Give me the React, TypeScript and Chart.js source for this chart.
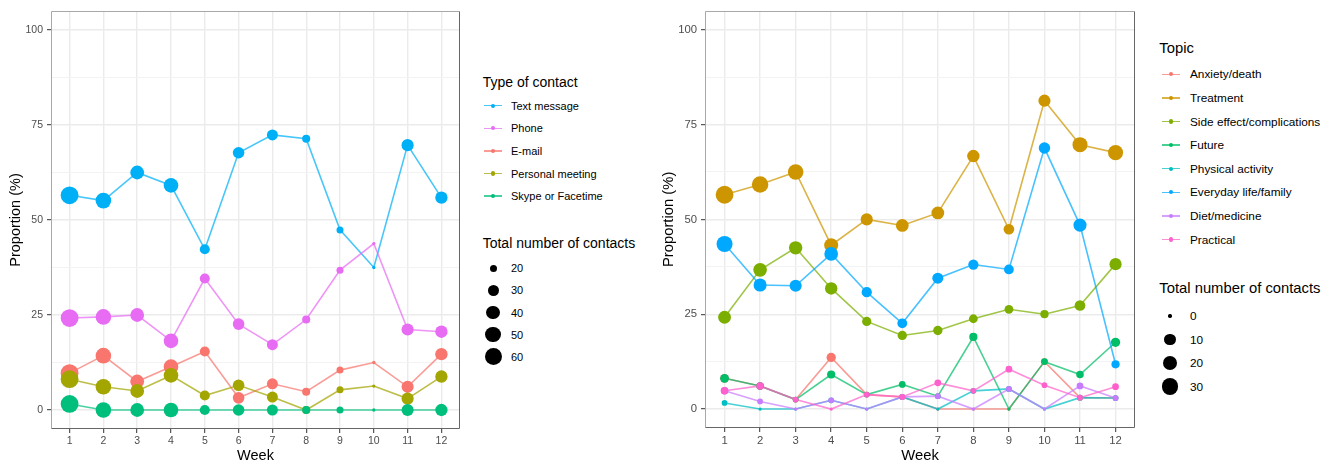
import React, { useEffect, useRef } from "react";
import { Chart, registerables } from "chart.js";

Chart.register(...registerables);

const FONT = "'Liberation Sans', Arial, Helvetica, sans-serif";

// ---------- shared axes ----------
const WEEKS = [1, 2, 3, 4, 5, 6, 7, 8, 9, 10, 11, 12];
const Y_TICKS = [0, 25, 50, 75, 100];
const Y_MINOR = [12.5, 37.5, 62.5, 87.5];

// ---------- left chart: type of contact ----------
const CONTACT_TYPES = ["Text message", "Phone", "E-mail", "Personal meeting", "Skype or Facetime"];
const CONTACT_COLORS = ["#00B0F6", "#E76BF3", "#F8766D", "#A3A500", "#00BF7D"];
const CONTACT_DRAW_RANK = [1, 0, 4, 3, 2]; // lower = drawn on top
const TEXT_MESSAGE = [56.5, 55.1, 62.5, 59.1, 42.3, 67.7, 72.4, 71.4, 47.4, 37.5, 69.7, 55.9];
const PHONE = [24.2, 24.5, 25.0, 18.2, 34.6, 22.6, 17.2, 23.8, 36.8, 43.8, 21.2, 20.6];
const EMAIL = [9.7, 14.3, 7.5, 11.4, 15.4, 3.2, 6.9, 4.8, 10.5, 12.5, 6.1, 14.7];
const PERSONAL_MEETING = [8.1, 6.1, 5.0, 9.1, 3.8, 6.5, 3.4, 0, 5.3, 6.3, 3.0, 8.8];
const SKYPE_FACETIME = [1.6, 0, 0, 0, 0, 0, 0, 0, 0, 0, 0, 0];
const WEEK_TOTALS = [62, 49, 40, 44, 26, 31, 29, 21, 19, 16, 33, 34];
const CONTACT_SIZE_LEGEND = [20, 30, 40, 50, 60];

// ---------- right chart: topic ----------
const TOPICS = [
  "Anxiety/death",
  "Treatment",
  "Side effect/complications",
  "Future",
  "Physical activity",
  "Everyday life/family",
  "Diet/medicine",
  "Practical",
];
const TOPIC_COLORS = ["#F8766D", "#CD9600", "#7CAE00", "#00BE67", "#00BFC4", "#00A9FF", "#C77CFF", "#FF61CC"];
const ANXIETY = [8.1, 6.1, 2.5, 13.6, 3.8, 3.2, 0, 0, 0, 12.5, 3.0, 2.9];
const ANXIETY_N = [5, 3, 1, 6, 1, 1, 0, 0, 0, 2, 1, 1];
const TREATMENT = [56.5, 59.2, 62.5, 43.2, 50.0, 48.4, 51.7, 66.7, 47.4, 81.3, 69.7, 67.6];
const TREATMENT_N = [35, 29, 25, 19, 13, 15, 15, 14, 9, 13, 23, 23];
const SIDE_EFFECT = [24.2, 36.7, 42.5, 31.8, 23.1, 19.4, 20.7, 23.8, 26.3, 25.0, 27.3, 38.2];
const SIDE_EFFECT_N = [15, 18, 17, 14, 6, 6, 6, 5, 5, 4, 9, 13];
const FUTURE = [8.1, 6.1, 2.5, 9.1, 3.8, 6.5, 3.4, 19.0, 0, 12.5, 9.1, 17.6];
const FUTURE_N = [5, 3, 1, 4, 1, 2, 1, 4, 0, 2, 3, 6];
const PHYSICAL = [1.6, 0, 0, 2.3, 0, 3.2, 0, 4.8, 5.3, 0, 3.0, 2.9];
const PHYSICAL_N = [1, 0, 0, 1, 0, 1, 0, 1, 1, 0, 1, 1];
const EVERYDAY = [43.5, 32.7, 32.5, 40.9, 30.8, 22.6, 34.5, 38.1, 36.8, 68.8, 48.5, 11.8];
const EVERYDAY_N = [27, 16, 13, 18, 8, 7, 10, 8, 7, 11, 16, 4];
const DIET = [4.8, 2.0, 0, 2.3, 0, 3.2, 3.4, 0, 5.3, 0, 6.1, 2.9];
const DIET_N = [3, 1, 0, 1, 0, 1, 1, 0, 1, 0, 2, 1];
const PRACTICAL = [4.8, 6.1, 2.5, 0, 3.8, 3.2, 6.9, 4.8, 10.5, 6.3, 3.0, 5.9];
const PRACTICAL_N = [3, 3, 1, 0, 1, 1, 2, 1, 2, 1, 1, 2];
const TOPIC_SIZE_LEGEND = [0, 10, 20, 30];

// ---------- helpers ----------
type Series = { label: string; color: string; values: number[]; counts: number[]; rank: number };

function sizeToRadius(n: number, min: number, max: number) {
  const t = max > min ? Math.max(0, (n - min) / (max - min)) : 0;
  const size = 1 + 5 * Math.sqrt(t);
  return 0.2 + 1.45 * size;
}

function withAlpha(hex: string, a: number) {
  const r = parseInt(hex.slice(1, 3), 16);
  const g = parseInt(hex.slice(3, 5), 16);
  const b = parseInt(hex.slice(5, 7), 16);
  return `rgba(${r},${g},${b},${a})`;
}

const panelBorder = {
  id: "panelBorder",
  afterDraw(chart: any) {
    const { ctx, chartArea: a } = chart;
    const l = Math.round(a.left) + 0.5;
    const r = Math.round(a.right) - 0.5;
    const t = Math.round(a.top) + 0.5;
    const b = Math.round(a.bottom) - 0.5;
    ctx.save();
    ctx.lineWidth = 1;
    ctx.strokeStyle = "#a8a8a8";
    ctx.beginPath();
    ctx.moveTo(l, b);
    ctx.lineTo(l, t);
    ctx.lineTo(r, t);
    ctx.stroke();
    ctx.strokeStyle = "#666666";
    ctx.beginPath();
    ctx.moveTo(r, t);
    ctx.lineTo(r, b);
    ctx.lineTo(l, b);
    ctx.stroke();
    ctx.restore();
  },
};

type Opts = {
  series: Series[];
  sizeMin: number;
  sizeMax: number;
  padTop: number;
  padRight: number;
  xAxisHeight: number;
  yTitlePad: number;
  tickSize: number;
  titleSize: number;
};

function buildConfig(o: Opts): any {
  const datasets: any[] = [];
  o.series.forEach((s) => {
    const pts = WEEKS.map((w, i) => ({ x: w, y: s.values[i] }));
    datasets.push({
      label: s.label + " line",
      data: pts,
      borderColor: withAlpha(s.color, 0.72),
      borderWidth: 1.6,
      pointRadius: 0,
      pointHoverRadius: 0,
      fill: false,
      tension: 0,
      order: 100 + s.rank,
    });
    const radii = s.counts.map((n) => sizeToRadius(n, o.sizeMin, o.sizeMax));
    datasets.push({
      label: s.label,
      data: pts,
      showLine: false,
      pointRadius: radii,
      pointHoverRadius: radii,
      pointBackgroundColor: s.color,
      pointBorderColor: s.color,
      pointBorderWidth: 0,
      order: s.rank,
    });
  });

  return {
    type: "line",
    data: { datasets },
    plugins: [panelBorder],
    options: {
      animation: false,
      responsive: false,
      maintainAspectRatio: false,
      events: [],
      layout: { padding: { top: o.padTop, right: o.padRight, bottom: 0, left: 0 } },
      plugins: { legend: { display: false }, tooltip: { enabled: false }, title: { display: false } },
      scales: {
        x: {
          type: "linear",
          min: 0.45,
          max: 12.55,
          afterBuildTicks: (s: any) => {
            s.ticks = WEEKS.map((v) => ({ value: v }));
          },
          afterFit: (s: any) => {
            s.height = o.xAxisHeight;
          },
          border: { display: false },
          grid: { color: "#ebebeb", lineWidth: 1.4, tickLength: 4, tickColor: "#333333", tickWidth: 1 },
          ticks: {
            color: "#4d4d4d",
            font: { family: FONT, size: o.tickSize },
            padding: 2,
            maxRotation: 0,
            autoSkip: false,
            callback: (v: any) => String(v),
          },
          title: {
            display: true,
            text: "Week",
            color: "#000000",
            font: { family: FONT, size: o.titleSize },
            padding: { top: 0, bottom: 0 },
          },
        },
        y: {
          type: "linear",
          min: -5,
          max: 105,
          afterBuildTicks: (s: any) => {
            s.ticks = [...Y_TICKS, ...Y_MINOR].sort((a, b) => a - b).map((v) => ({ value: v }));
          },
          afterFit: (s: any) => {
            s.width = 51;
          },
          border: { display: false },
          grid: {
            color: (c: any) => (c.tick && Y_TICKS.includes(c.tick.value) ? "#ebebeb" : "#f3f3f3"),
            lineWidth: (c: any) => (c.tick && Y_TICKS.includes(c.tick.value) ? 1.4 : 1),
            tickLength: 4,
            tickColor: (c: any) => (c.tick && Y_TICKS.includes(c.tick.value) ? "#333333" : "rgba(0,0,0,0)"),
            tickWidth: 1,
          },
          ticks: {
            color: "#4d4d4d",
            font: { family: FONT, size: o.tickSize },
            padding: 4,
            autoSkip: false,
            callback: (v: any) => (Y_TICKS.includes(v) ? String(v) : ""),
          },
          title: {
            display: true,
            text: "Proportion (%)",
            color: "#000000",
            font: { family: FONT, size: o.titleSize },
            padding: { top: o.yTitlePad, bottom: 0 },
          },
        },
      },
    },
  };
}

function ChartCanvas(props: { left: number; width: number; opts: Opts }) {
  const ref = useRef<HTMLCanvasElement | null>(null);
  useEffect(() => {
    if (!ref.current) return;
    const chart = new Chart(ref.current, buildConfig(props.opts));
    return () => chart.destroy();
  }, []);
  return (
    <canvas
      ref={ref}
      width={props.width}
      height={465}
      style={{ position: "absolute", left: props.left, top: 0, width: props.width, height: 465 }}
    />
  );
}

type LegendProps = {
  title: string;
  titleX: number;
  titleY: number;
  labels: string[];
  colors: string[];
  itemStart: number;
  itemStep: number;
  keyX: number;
  textX: number;
  sizeTitle: string;
  sizeTitleY: number;
  sizeValues: number[];
  sizeMin: number;
  sizeMax: number;
  sizeStart: number;
  sizeStep: number;
  sizeX: number;
  titleFont: number;
  itemFont: number;
};

function Legend(p: LegendProps) {
  const text = (content: string, x: number, y: number, size: number, key: string) => (
    <div
      key={key}
      style={{
        position: "absolute",
        left: x,
        top: y - 10,
        height: 20,
        lineHeight: "20px",
        fontFamily: FONT,
        fontSize: size,
        color: "#000",
        whiteSpace: "nowrap",
      }}
    >
      {content}
    </div>
  );
  const els: any[] = [];
  els.push(text(p.title, p.titleX, p.titleY, p.titleFont, "t"));
  p.labels.forEach((lab, i) => {
    const y = p.itemStart + i * p.itemStep;
    els.push(
      <div
        key={"l" + i}
        style={{
          position: "absolute",
          left: p.keyX,
          top: y - 0.8,
          width: 18,
          height: 1.6,
          background: withAlpha(p.colors[i], 0.72),
        }}
      />
    );
    els.push(
      <div
        key={"d" + i}
        style={{
          position: "absolute",
          left: p.keyX + 9 - 2.2,
          top: y - 2.2,
          width: 4.4,
          height: 4.4,
          borderRadius: "50%",
          background: p.colors[i],
        }}
      />
    );
    els.push(text(lab, p.textX, y, p.itemFont, "x" + i));
  });
  els.push(text(p.sizeTitle, p.titleX, p.sizeTitleY, p.titleFont, "st"));
  p.sizeValues.forEach((v, i) => {
    const y = p.sizeStart + i * p.sizeStep;
    const r = sizeToRadius(v, p.sizeMin, p.sizeMax);
    els.push(
      <div
        key={"c" + i}
        style={{
          position: "absolute",
          left: p.sizeX - r,
          top: y - r,
          width: 2 * r,
          height: 2 * r,
          borderRadius: "50%",
          background: "#000",
        }}
      />
    );
    els.push(text(String(v), p.textX, y, p.itemFont, "v" + i));
  });
  return <>{els}</>;
}

export default function App() {
  const leftSeries: Series[] = [
    { label: CONTACT_TYPES[0], color: CONTACT_COLORS[0], values: TEXT_MESSAGE, counts: WEEK_TOTALS, rank: CONTACT_DRAW_RANK[0] },
    { label: CONTACT_TYPES[1], color: CONTACT_COLORS[1], values: PHONE, counts: WEEK_TOTALS, rank: CONTACT_DRAW_RANK[1] },
    { label: CONTACT_TYPES[2], color: CONTACT_COLORS[2], values: EMAIL, counts: WEEK_TOTALS, rank: CONTACT_DRAW_RANK[2] },
    { label: CONTACT_TYPES[3], color: CONTACT_COLORS[3], values: PERSONAL_MEETING, counts: WEEK_TOTALS, rank: CONTACT_DRAW_RANK[3] },
    { label: CONTACT_TYPES[4], color: CONTACT_COLORS[4], values: SKYPE_FACETIME, counts: WEEK_TOTALS, rank: CONTACT_DRAW_RANK[4] },
  ];
  const topicValues = [ANXIETY, TREATMENT, SIDE_EFFECT, FUTURE, PHYSICAL, EVERYDAY, DIET, PRACTICAL];
  const topicCounts = [ANXIETY_N, TREATMENT_N, SIDE_EFFECT_N, FUTURE_N, PHYSICAL_N, EVERYDAY_N, DIET_N, PRACTICAL_N];
  const rightSeries: Series[] = TOPICS.map((t, i) => ({
    label: t,
    color: TOPIC_COLORS[i],
    values: topicValues[i],
    counts: topicCounts[i],
    rank: TOPICS.length - 1 - i,
  }));

  const leftMin = Math.min(...WEEK_TOTALS);
  const leftMax = Math.max(...WEEK_TOTALS);
  const rightMin = 0;
  const rightMax = Math.max(...topicCounts.map((a) => Math.max(...a)));

  return (
    <div style={{ position: "absolute", left: 0, top: 0, width: 1333, height: 465, background: "#fff", overflow: "hidden" }}>
      <ChartCanvas
        left={0}
        width={470}
        opts={{
          series: leftSeries,
          sizeMin: leftMin,
          sizeMax: leftMax,
          padTop: 11,
          padRight: 10,
          xAxisHeight: 36,
          yTitlePad: 7,
          tickSize: 10.5,
          titleSize: 14.5,
        }}
      />
      <ChartCanvas
        left={654}
        width={490}
        opts={{
          series: rightSeries,
          sizeMin: rightMin,
          sizeMax: rightMax,
          padTop: 10,
          padRight: 8,
          xAxisHeight: 37,
          yTitlePad: 6,
          tickSize: 11.3,
          titleSize: 14.8,
        }}
      />
      <Legend
        title="Type of contact"
        titleX={482.7}
        titleY={82}
        labels={CONTACT_TYPES}
        colors={CONTACT_COLORS}
        itemStart={105.7}
        itemStep={22.6}
        keyX={484}
        textX={511}
        sizeTitle="Total number of contacts"
        sizeTitleY={243.3}
        sizeValues={CONTACT_SIZE_LEGEND}
        sizeMin={leftMin}
        sizeMax={leftMax}
        sizeStart={268.3}
        sizeStep={22.1}
        sizeX={493.3}
        titleFont={14}
        itemFont={11}
      />
      <Legend
        title="Topic"
        titleX={1159.3}
        titleY={48.3}
        labels={TOPICS}
        colors={TOPIC_COLORS}
        itemStart={74.3}
        itemStep={23.6}
        keyX={1162}
        textX={1190}
        sizeTitle="Total number of contacts"
        sizeTitleY={288.3}
        sizeValues={TOPIC_SIZE_LEGEND}
        sizeMin={rightMin}
        sizeMax={rightMax}
        sizeStart={316}
        sizeStep={23.5}
        sizeX={1170}
        titleFont={14.8}
        itemFont={11.8}
      />
    </div>
  );
}
